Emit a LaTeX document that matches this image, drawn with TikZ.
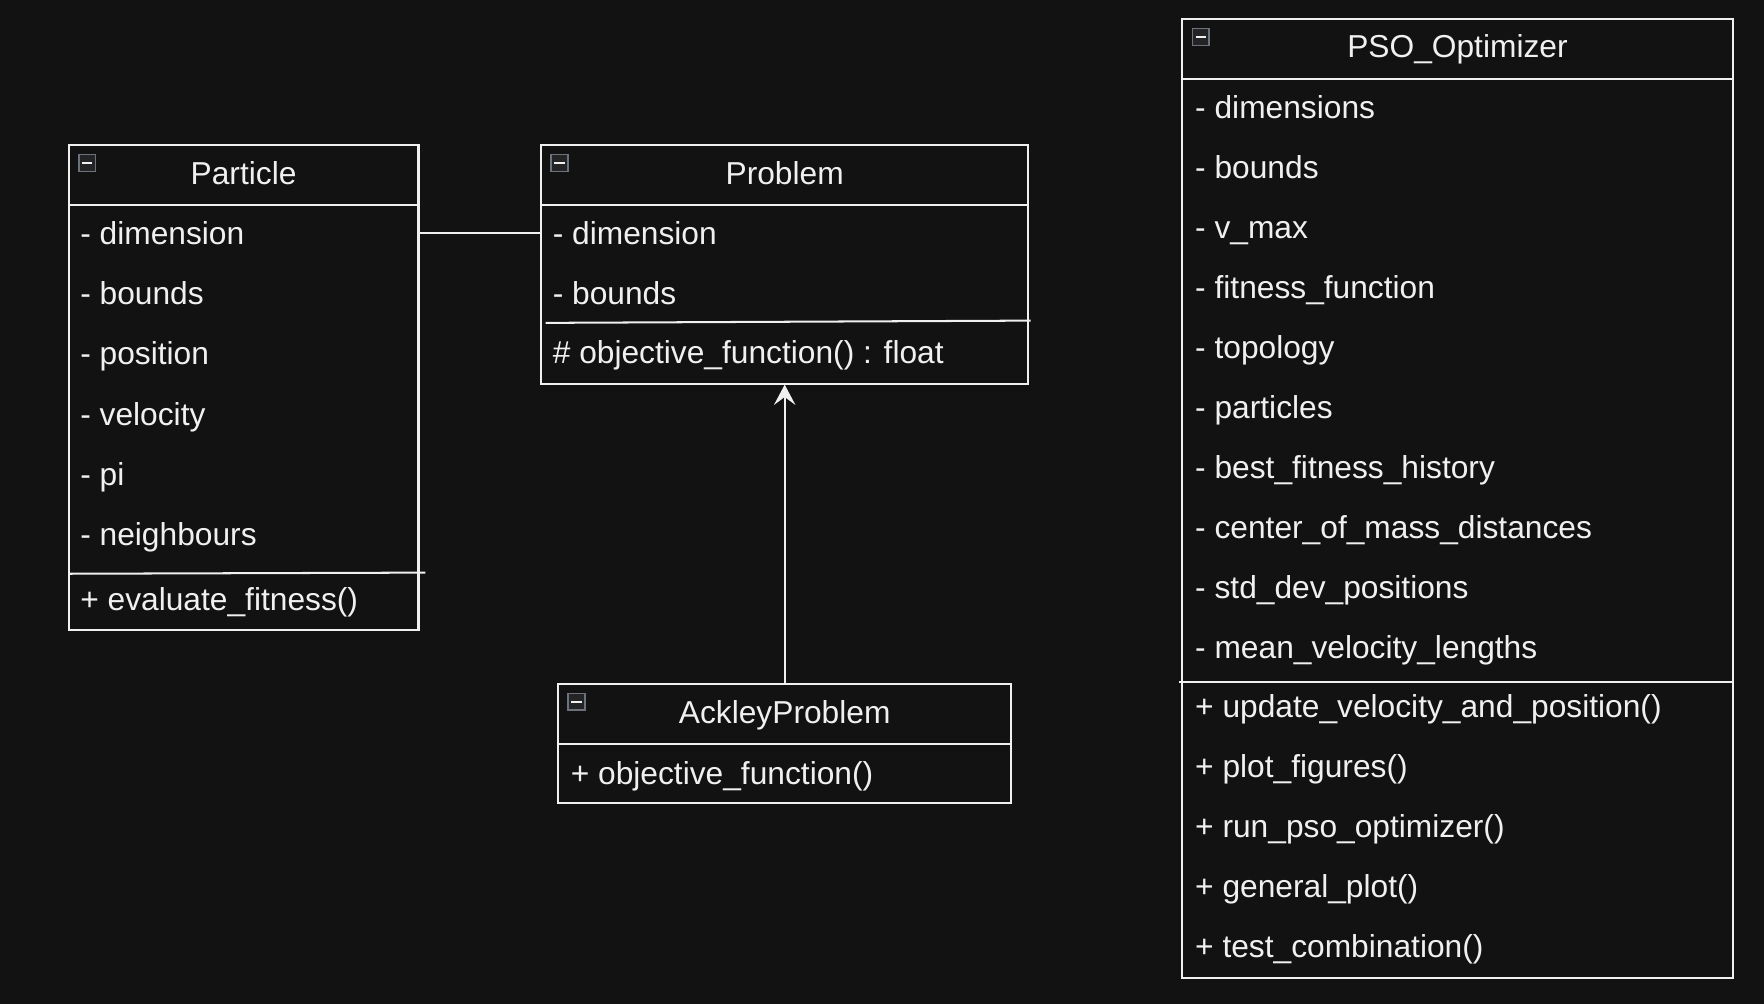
\documentclass[tikz,border=0pt]{standalone}
\usepackage{fontspec}
\setmainfont{Liberation Sans}
\usetikzlibrary{arrows.meta,positioning,fit,calc}
\definecolor{bgcol}{RGB}{18,18,18}
\definecolor{fgcol}{RGB}{240,240,240}
\definecolor{icongray}{RGB}{108,114,124}
\definecolor{iconfill}{RGB}{36,36,38}

\begin{document}
\begin{tikzpicture}[x=0.5pt, y=-0.5pt,
    every node/.style={font=\fontsize{14.1}{17}\selectfont, text=fgcol},
    umlbox/.style={draw=fgcol, line width=0.9pt, inner sep=0pt},
    umlline/.style={draw=fgcol, line width=0.9pt},
    umltitle/.style={anchor=base, inner sep=0pt},
    umlattr/.style={anchor=base west, inner sep=0pt},
    minusicon/.style={draw=icongray, fill=iconfill, line width=0.8pt,
        minimum size=7.5pt, inner sep=0pt, anchor=north west,
        path picture={\draw[fgcol, line width=1pt]
            ([xshift=-2.3pt]path picture bounding box.center) --
            ([xshift=2.3pt]path picture bounding box.center);}}]
    \useasboundingbox (0,0) rectangle (1568,892);
    \fill[bgcol] (0,0) rectangle (1568,892);

    % Particle
    \node[umlbox, fit={(61,129) (372,560)}] (particle) {};
    \node[umltitle] (particle-title) at (216.5,164) {Particle};
    \draw[umlline] (61,182) -- (372,182);
    \foreach \t [count=\i] in {dimension, bounds, position, velocity, pi, neighbours}
        \node[umlattr] (pa-\i) at (71, {217+53.6*(\i-1)}) {- \t};
    \draw[umlline] (61,510) -- (378,509);
    \node[umlattr] (pa-m1) at (71,543) {+ evaluate\_fitness()};

    % Problem
    \node[umlbox, fit={(481,129) (914,341)}] (problem) {};
    \node[umltitle] (problem-title) at (697.5,164) {Problem};
    \draw[umlline] (481,182) -- (914,182);
    \node[umlattr] (pr-1) at (491,217) {- dimension};
    \node[umlattr] (pr-2) at (491,270.5) {- bounds};
    \draw[umlline] (485,287) -- (916,285);
    \node[umlattr] (pr-m1) at (491,323) {\# objective\_function() : float};

    % AckleyProblem
    \node[umlbox, fit={(496,608) (899,714)}] (ackley) {};
    \node[umltitle] (ackley-title) at (697.5,643) {AckleyProblem};
    \draw[umlline] (496,661) -- (899,661);
    \node[umlattr] (ak-m1) at (507,697) {+ objective\_function()};

    % PSO_Optimizer
    \node[umlbox, fit={(1051,17) (1540,869)}] (pso) {};
    \node[umltitle] (pso-title) at (1295.5,51) {PSO\_Optimizer};
    \draw[umlline] (1051,70) -- (1540,70);
    \foreach \t [count=\i] in {dimensions, bounds, v\_max, fitness\_function, topology,
        particles, best\_fitness\_history, center\_of\_mass\_distances,
        std\_dev\_positions, mean\_velocity\_lengths}
        \node[umlattr] (ps-\i) at (1062, {105+53.33*(\i-1)}) {- \t};
    \draw[umlline] (1048,606) -- (1541,606);
    \foreach \t [count=\i] in {update\_velocity\_and\_position(), plot\_figures(),
        run\_pso\_optimizer(), general\_plot(), test\_combination()}
        \node[umlattr] (ps-m\i) at (1062, {638+53.3*(\i-1)}) {+ \t};

    % Collapse icons
    \foreach \b in {particle, problem, ackley, pso}
        \node[minusicon] (\b-icon) at ([xshift=4.5pt, yshift=-4.25pt]\b.north west) {};

    % Relations
    \draw[umlline] (particle.east |- pa-1) -- (problem.west |- pa-1);
    \draw[umlline, -{Stealth[length=9pt, width=9.5pt, inset=3.5pt]}] (ackley.north) -- (problem.south);
\end{tikzpicture}
\end{document}
